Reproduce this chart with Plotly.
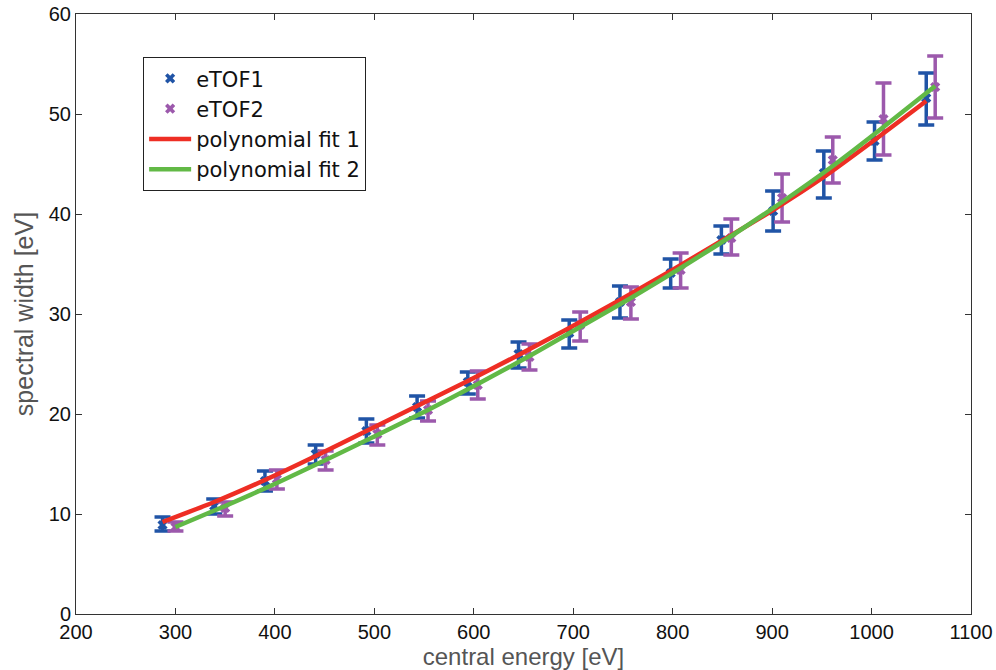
import plotly.graph_objects as go

# eTOF1 data
e1_x = [287, 339, 390, 441, 492, 543, 594, 645, 696, 747, 798, 849, 901, 952, 1003, 1055]
e1_y = [8.9, 10.8, 13.3, 16.0, 18.3, 20.7, 23.2, 26.0, 28.1, 31.2, 34.1, 37.4, 40.3, 44.1, 47.3, 51.6]
e1_lo = [8.3, 10.0, 12.3, 15.0, 17.1, 19.6, 22.0, 24.6, 26.6, 29.6, 32.6, 36.0, 38.3, 41.6, 45.4, 48.9]
e1_hi = [9.7, 11.5, 14.3, 16.9, 19.5, 21.8, 24.2, 27.2, 29.4, 32.8, 35.5, 38.8, 42.3, 46.3, 49.2, 54.1]

# eTOF2 data
e2_x = [300, 350, 402, 451, 503, 554, 604, 656, 707, 758, 808, 859, 910, 961, 1012, 1064]
e2_y = [8.7, 10.6, 13.5, 15.4, 18.0, 20.4, 22.9, 25.7, 28.9, 31.2, 34.4, 37.6, 41.6, 45.4, 49.5, 52.7]
e2_lo = [8.3, 9.8, 12.5, 14.4, 16.9, 19.3, 21.5, 24.4, 27.3, 29.5, 32.6, 35.9, 39.2, 43.1, 45.9, 49.6]
e2_hi = [9.2, 11.2, 14.4, 16.3, 18.9, 21.3, 24.3, 27.0, 30.2, 32.7, 36.1, 39.5, 44.0, 47.7, 53.1, 55.8]

# polynomial fit curves
fit1_y = [9.2, 11.2, 13.4, 15.8, 18.3, 20.8, 23.3, 25.9, 28.6, 31.4, 34.3, 37.3, 40.4, 43.7, 47.4, 51.3]
fit2_y = [8.7, 10.8, 13.1, 15.4, 17.9, 20.4, 23.0, 25.8, 28.7, 31.6, 34.6, 37.8, 41.2, 44.8, 48.7, 52.8]

x_ticks = [200, 300, 400, 500, 600, 700, 800, 900, 1000, 1100]
y_ticks = [0, 10, 20, 30, 40, 50, 60]

BLUE = "#2054A6"
PURPLE = "#9C59AC"
RED = "#EE2E24"
GREEN = "#62B946"

FONT = "Liberation Sans, Arial, sans-serif"
LEG_FONT = "DejaVu Sans, Open Sans, sans-serif"

def err(y, lo, hi):
    plus = [h - v for v, h in zip(y, hi)]
    minus = [v - l for v, l in zip(y, lo)]
    return plus, minus

p1, m1 = err(e1_y, e1_lo, e1_hi)
p2, m2 = err(e2_y, e2_lo, e2_hi)

fig = go.Figure()

fig.add_trace(go.Scatter(
    x=e1_x, y=e1_y, mode="markers", name="eTOF1",
    marker=dict(symbol="x", size=9, color=BLUE, line=dict(width=0)),
    error_y=dict(type="data", array=p1, arrayminus=m1, color=BLUE, thickness=3.5, width=8),
))
fig.add_trace(go.Scatter(
    x=e2_x, y=e2_y, mode="markers", name="eTOF2",
    marker=dict(symbol="x", size=9, color=PURPLE, line=dict(width=0)),
    error_y=dict(type="data", array=p2, arrayminus=m2, color=PURPLE, thickness=3.5, width=8),
))
fig.add_trace(go.Scatter(
    x=e1_x, y=fit1_y, mode="lines", name="polynomial fit 1",
    line=dict(color=RED, width=4.5, shape="spline", smoothing=0.6),
))
fig.add_trace(go.Scatter(
    x=e2_x, y=fit2_y, mode="lines", name="polynomial fit 2",
    line=dict(color=GREEN, width=4.5, shape="spline", smoothing=0.6),
))

axis_common = dict(
    showgrid=False, zeroline=False, showline=True, linecolor="#333333", linewidth=1,
    mirror="ticks", ticks="inside", ticklen=6, tickcolor="#333333",
    tickfont=dict(family=FONT, size=20, color="#111111"),
    automargin=False,
)

fig.update_layout(
    width=996, height=670,
    margin=dict(l=76, r=25, t=14, b=56),
    paper_bgcolor="white", plot_bgcolor="white",
    showlegend=True,
    legend=dict(
        x=0.075, y=0.928, xanchor="left", yanchor="top",
        bordercolor="#222222", borderwidth=1, bgcolor="white",
        font=dict(family=LEG_FONT, size=21, color="#111111"),
        tracegroupgap=0, itemwidth=42,
    ),
    xaxis=dict(
        range=[200, 1100], tickvals=x_ticks, ticktext=[str(v) for v in x_ticks],
        title=dict(text="central energy [eV]", font=dict(family=FONT, size=24, color="#555555"), standoff=4),
        **axis_common,
    ),
    yaxis=dict(
        range=[0, 60], tickvals=y_ticks, ticktext=[str(v) for v in y_ticks],
        title=dict(text="spectral width [eV]", font=dict(family=FONT, size=25, color="#555555"), standoff=8),
        **axis_common,
    ),
)

fig.write_html("out.html")
